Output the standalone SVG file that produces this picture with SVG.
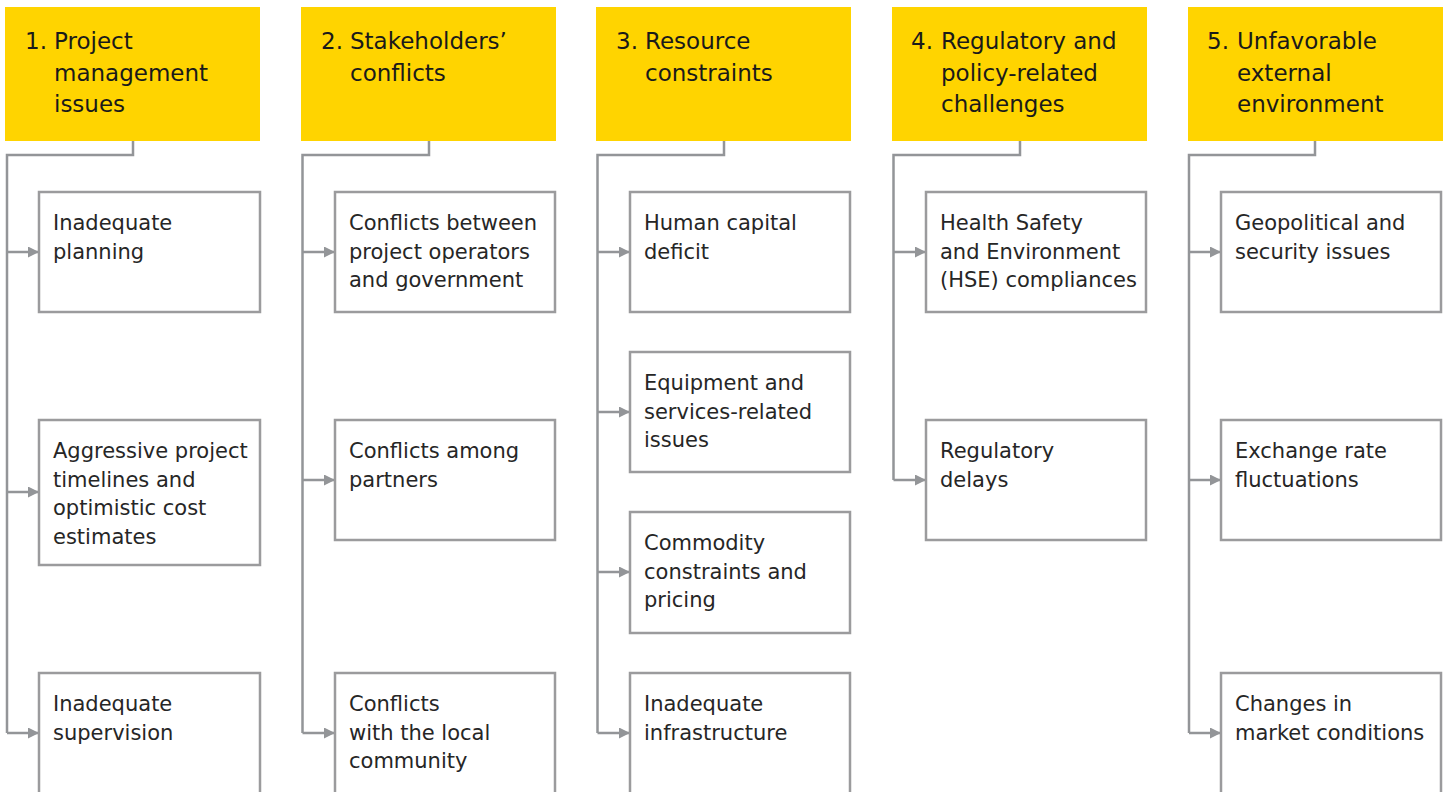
<svg xmlns="http://www.w3.org/2000/svg" width="1444" height="792" viewBox="0 0 1444 792">
<defs>
<style>
.hdr{fill:#FFD400;}
.htxt{font-family:"DejaVu Sans",sans-serif;font-size:23px;fill:#1a1a1a;}
.box{fill:#fff;stroke:#9b9b9d;stroke-width:2.5;}
.btxt{font-family:"DejaVu Sans",sans-serif;font-size:21px;fill:#262626;}
.conn{fill:none;stroke:#939598;stroke-width:2.5;}
</style>
<marker id="arr" markerUnits="userSpaceOnUse" markerWidth="12" markerHeight="12" refX="11" refY="5.5" orient="auto">
<path d="M0,0 L11,5.5 L0,11 z" fill="#939598"/>
</marker>
</defs>
<rect width="1444" height="792" fill="#fff"/>

<g id="connectors">
<path class="conn" d="M133,141 V155 H7 V733"/>
<path class="conn" d="M7,252 H39" marker-end="url(#arr)"/>
<path class="conn" d="M7,492 H39" marker-end="url(#arr)"/>
<path class="conn" d="M7,733 H39" marker-end="url(#arr)"/>

<path class="conn" d="M429,141 V155 H302.5 V733"/>
<path class="conn" d="M302.5,252 H335" marker-end="url(#arr)"/>
<path class="conn" d="M302.5,480 H335" marker-end="url(#arr)"/>
<path class="conn" d="M302.5,733 H335" marker-end="url(#arr)"/>

<path class="conn" d="M724,141 V155 H597.5 V733"/>
<path class="conn" d="M597.5,252 H630" marker-end="url(#arr)"/>
<path class="conn" d="M597.5,412 H630" marker-end="url(#arr)"/>
<path class="conn" d="M597.5,572 H630" marker-end="url(#arr)"/>
<path class="conn" d="M597.5,733 H630" marker-end="url(#arr)"/>

<path class="conn" d="M1020,141 V155 H893.5 V480"/>
<path class="conn" d="M893.5,252 H926" marker-end="url(#arr)"/>
<path class="conn" d="M893.5,480 H926" marker-end="url(#arr)"/>

<path class="conn" d="M1315,141 V155 H1189 V733"/>
<path class="conn" d="M1189,252 H1221" marker-end="url(#arr)"/>
<path class="conn" d="M1189,480 H1221" marker-end="url(#arr)"/>
<path class="conn" d="M1189,733 H1221" marker-end="url(#arr)"/>
</g>

<!-- Column 1 -->
<g id="h1"><rect class="hdr" x="5" y="7" width="255" height="134"/>
<text class="htxt" x="25" y="49">1.</text>
<text class="htxt" x="54" y="49">Project</text>
<text class="htxt" x="54" y="80.5">management</text>
<text class="htxt" x="54" y="112">issues</text></g>
<g id="n1a"><rect class="box" x="39" y="192" width="221" height="120"/>
<text class="btxt" x="53" y="230">Inadequate</text>
<text class="btxt" x="53" y="258.5">planning</text></g>
<g id="n1b"><rect class="box" x="39" y="420" width="221" height="145"/>
<text class="btxt" x="53" y="458">Aggressive project</text>
<text class="btxt" x="53" y="486.5">timelines and</text>
<text class="btxt" x="53" y="515">optimistic cost</text>
<text class="btxt" x="53" y="543.5">estimates</text></g>
<g id="n1c"><rect class="box" x="39" y="673" width="221" height="140"/>
<text class="btxt" x="53" y="711">Inadequate</text>
<text class="btxt" x="53" y="739.5">supervision</text></g>

<!-- Column 2 -->
<g id="h2"><rect class="hdr" x="301" y="7" width="255" height="134"/>
<text class="htxt" x="321" y="49">2.</text>
<text class="htxt" x="350" y="49">Stakeholders’</text>
<text class="htxt" x="350" y="80.5">conflicts</text></g>
<g id="n2a"><rect class="box" x="335" y="192" width="220" height="120"/>
<text class="btxt" x="349" y="230">Conflicts between</text>
<text class="btxt" x="349" y="258.5">project operators</text>
<text class="btxt" x="349" y="287">and government</text></g>
<g id="n2b"><rect class="box" x="335" y="420" width="220" height="120"/>
<text class="btxt" x="349" y="458">Conflicts among</text>
<text class="btxt" x="349" y="486.5">partners</text></g>
<g id="n2c"><rect class="box" x="335" y="673" width="220" height="140"/>
<text class="btxt" x="349" y="711">Conflicts</text>
<text class="btxt" x="349" y="739.5">with the local</text>
<text class="btxt" x="349" y="768">community</text></g>

<!-- Column 3 -->
<g id="h3"><rect class="hdr" x="596" y="7" width="255" height="134"/>
<text class="htxt" x="616" y="49">3.</text>
<text class="htxt" x="645" y="49">Resource</text>
<text class="htxt" x="645" y="80.5">constraints</text></g>
<g id="n3a"><rect class="box" x="630" y="192" width="220" height="120"/>
<text class="btxt" x="644" y="230">Human capital</text>
<text class="btxt" x="644" y="258.5">deficit</text></g>
<g id="n3b"><rect class="box" x="630" y="352" width="220" height="120"/>
<text class="btxt" x="644" y="390">Equipment and</text>
<text class="btxt" x="644" y="418.5">services-related</text>
<text class="btxt" x="644" y="447">issues</text></g>
<g id="n3c"><rect class="box" x="630" y="512" width="220" height="121"/>
<text class="btxt" x="644" y="550">Commodity</text>
<text class="btxt" x="644" y="578.5">constraints and</text>
<text class="btxt" x="644" y="607">pricing</text></g>
<g id="n3d"><rect class="box" x="630" y="673" width="220" height="140"/>
<text class="btxt" x="644" y="711">Inadequate</text>
<text class="btxt" x="644" y="739.5">infrastructure</text></g>

<!-- Column 4 -->
<g id="h4"><rect class="hdr" x="892" y="7" width="255" height="134"/>
<text class="htxt" x="911" y="49">4.</text>
<text class="htxt" x="941" y="49">Regulatory and</text>
<text class="htxt" x="941" y="80.5">policy-related</text>
<text class="htxt" x="941" y="112">challenges</text></g>
<g id="n4a"><rect class="box" x="926" y="192" width="220" height="120"/>
<text class="btxt" x="940" y="230">Health Safety</text>
<text class="btxt" x="940" y="258.5">and Environment</text>
<text class="btxt" x="940" y="287">(HSE) compliances</text></g>
<g id="n4b"><rect class="box" x="926" y="420" width="220" height="120"/>
<text class="btxt" x="940" y="458">Regulatory</text>
<text class="btxt" x="940" y="486.5">delays</text></g>

<!-- Column 5 -->
<g id="h5"><rect class="hdr" x="1188" y="7" width="255" height="134"/>
<text class="htxt" x="1207" y="49">5.</text>
<text class="htxt" x="1237" y="49">Unfavorable</text>
<text class="htxt" x="1237" y="80.5">external</text>
<text class="htxt" x="1237" y="112">environment</text></g>
<g id="n5a"><rect class="box" x="1221" y="192" width="220" height="120"/>
<text class="btxt" x="1235" y="230">Geopolitical and</text>
<text class="btxt" x="1235" y="258.5">security issues</text></g>
<g id="n5b"><rect class="box" x="1221" y="420" width="220" height="120"/>
<text class="btxt" x="1235" y="458">Exchange rate</text>
<text class="btxt" x="1235" y="486.5">fluctuations</text></g>
<g id="n5c"><rect class="box" x="1221" y="673" width="220" height="140"/>
<text class="btxt" x="1235" y="711">Changes in</text>
<text class="btxt" x="1235" y="739.5">market conditions</text></g>
</svg>
